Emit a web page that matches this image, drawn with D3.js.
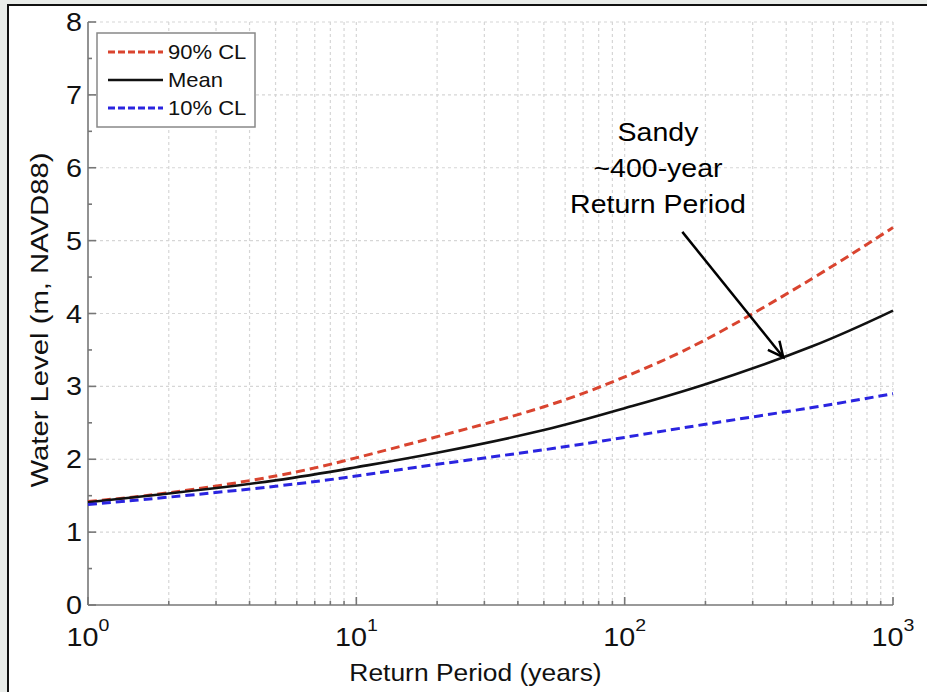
<!DOCTYPE html>
<html><head><meta charset="utf-8">
<script src="https://cdn.jsdelivr.net/npm/d3@7"></script>
<style>
html,body{margin:0;padding:0;background:#e8ebe8;}
svg{display:block;font-family:"Liberation Sans",Arial,sans-serif;}
</style></head>
<body>
<svg id="chart" width="927" height="692"></svg>
<script>
// ---- data ----
const periods = [1, 2, 5, 10, 20, 50, 100, 200, 500, 1000];
const cl90 = [1.42, 1.54, 1.77, 2.02, 2.31, 2.72, 3.13, 3.64, 4.48, 5.18];
const mean = [1.41, 1.53, 1.71, 1.89, 2.09, 2.40, 2.70, 3.03, 3.55, 4.04];
const cl10 = [1.38, 1.48, 1.63, 1.77, 1.93, 2.13, 2.30, 2.48, 2.71, 2.90];
const seriesNames = ["90% CL", "Mean", "10% CL"];
const xTickExps = [0, 1, 2, 3];
const yTicks = [0, 1, 2, 3, 4, 5, 6, 7, 8];
const annotLines = ["Sandy", "~400-year", "Return Period"];
const arrowFrom = {T: 164, v: 5.12};
const arrowTo = {T: 390, v: 3.40};

const svg = d3.select("#chart");
const W = 927, H = 692;
const L = 88, R = 893, T = 22, B = 605;
const x = d3.scaleLog().domain([1, 1000]).range([L, R]);
const y = d3.scaleLinear().domain([0, 8]).range([B, T]);

// background + white panel with border
svg.append("rect").attr("width", W).attr("height", H).attr("fill", "#e9ece9");
svg.append("rect").attr("x", 8).attr("y", 5).attr("width", W).attr("height", H)
  .attr("fill", "#fff").attr("stroke", "#111").attr("stroke-width", 2);

// grid
const minorX = [];
for (let d = 1; d < 1000; d *= 10) for (let k = 1; k <= 10; k++) minorX.push(d * k);
const xs = Array.from(new Set(minorX));
const grid = svg.append("g").attr("stroke", "#d6d6d6").attr("stroke-width", 1.2).attr("stroke-dasharray", "3,3");
grid.selectAll("line.v").data(xs.filter(v => v > 1)).join("line")
  .attr("x1", d => x(d)).attr("x2", d => x(d)).attr("y1", T).attr("y2", B);
grid.selectAll("line.h").data(yTicks.filter(v => v > 0)).join("line")
  .attr("x1", L).attr("x2", R).attr("y1", d => y(d)).attr("y2", d => y(d));

// axes (MATLAB style, ticks inward)
const axisG = svg.append("g").attr("stroke", "#777").attr("stroke-width", 1.6);
axisG.append("line").attr("x1", L).attr("x2", R).attr("y1", B).attr("y2", B);
axisG.append("line").attr("x1", L).attr("x2", L).attr("y1", T).attr("y2", B);
axisG.selectAll("line.xt").data(xs).join("line")
  .attr("x1", d => x(d)).attr("x2", d => x(d)).attr("y1", B)
  .attr("y2", d => B - (Math.abs(Math.log10(d) - Math.round(Math.log10(d))) < 1e-9 ? 8 : 4));
const yMinor = d3.range(0, 8.01, 0.5);
axisG.selectAll("line.yt").data(yMinor).join("line")
  .attr("y1", d => y(d)).attr("y2", d => y(d)).attr("x1", L)
  .attr("x2", d => L + (d % 1 === 0 ? 8 : 4));

// tick labels
const tl = svg.append("g").attr("fill", "#111").attr("font-size", 25);
yTicks.forEach(v => {
  tl.append("text").attr("text-anchor", "end")
    .attr("transform", `translate(${L - 6},${y(v) + 9}) scale(1.15,1)`).text(v);
});
xTickExps.forEach(e => {
  const t = tl.append("text").attr("text-anchor", "middle")
    .attr("transform", `translate(${x(Math.pow(10, e))},646) scale(1.15,1)`);
  t.append("tspan").text("10");
  t.append("tspan").attr("dy", -15).attr("font-size", 17).text(e);
});

// axis titles
svg.append("text").attr("font-size", 24).attr("fill", "#111").attr("text-anchor", "middle")
  .attr("transform", `translate(${(L + R) / 2 - 15},681) scale(1.1,1)`).text("Return Period (years)");
svg.append("text").attr("font-size", 24).attr("fill", "#111").attr("text-anchor", "middle")
  .attr("transform", `translate(48,320) rotate(-90) scale(1.22,1)`).text("Water Level (m, NAVD88)");

// lines
const line = d3.line().x(d => x(d[0])).y(d => y(d[1])).curve(d3.curveNatural);
const series = [
  {name: seriesNames[0], vals: cl90, color: "#d9442f", dash: "9,5", w: 3},
  {name: seriesNames[1], vals: mean, color: "#111", dash: null, w: 2.6},
  {name: seriesNames[2], vals: cl10, color: "#2a24e0", dash: "9,5", w: 3}
];
series.forEach(s => {
  svg.append("path").datum(periods.map((p, i) => [p, s.vals[i]]))
    .attr("d", line).attr("fill", "none").attr("stroke", s.color)
    .attr("stroke-width", s.w).attr("stroke-dasharray", s.dash);
});

// legend
const lg = svg.append("g");
lg.append("rect").attr("x", 97).attr("y", 33).attr("width", 158).attr("height", 94)
  .attr("fill", "#fff").attr("stroke", "#888").attr("stroke-width", 1.5);
series.forEach((s, i) => {
  const yy = 52 + i * 28;
  lg.append("line").attr("x1", 108).attr("x2", 163).attr("y1", yy).attr("y2", yy)
    .attr("stroke", s.color).attr("stroke-width", s.w).attr("stroke-dasharray", s.dash ? "7,3" : null);
  lg.append("text").attr("transform", `translate(168,${yy + 7}) scale(1.1,1)`)
    .attr("font-size", 20).attr("fill", "#111").text(s.name);
});

// annotation
annotLines.forEach((t, i) => {
  svg.append("text").attr("text-anchor", "middle").attr("font-size", 25).attr("fill", "#000")
    .attr("transform", `translate(658,${141 + i * 36}) scale(1.14,1)`).text(t);
});
const ax1 = x(arrowFrom.T), ay1 = y(arrowFrom.v), ax2 = x(arrowTo.T), ay2 = y(arrowTo.v);
svg.append("line").attr("x1", ax1).attr("y1", ay1).attr("x2", ax2).attr("y2", ay2)
  .attr("stroke", "#000").attr("stroke-width", 2.5);
const ang = Math.atan2(ay2 - ay1, ax2 - ax1), hl = 17, ha = 0.45;
svg.append("path").attr("fill", "none").attr("stroke", "#000").attr("stroke-width", 2.5)
  .attr("d", `M${ax2 - hl * Math.cos(ang - ha)},${ay2 - hl * Math.sin(ang - ha)}L${ax2},${ay2}L${ax2 - hl * Math.cos(ang + ha)},${ay2 - hl * Math.sin(ang + ha)}`);
</script>
</body></html>
